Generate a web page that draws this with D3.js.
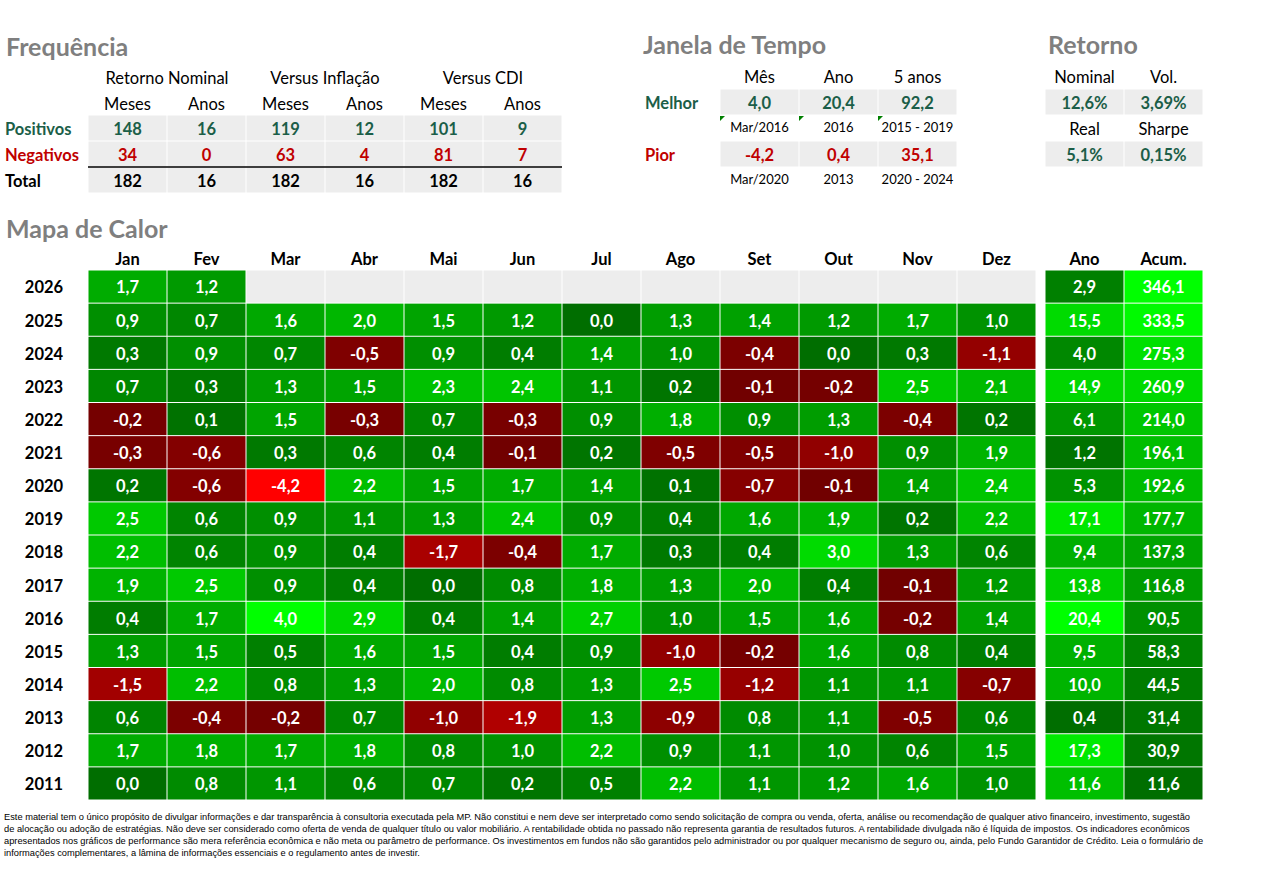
<!DOCTYPE html>
<html>
<head>
<meta charset="utf-8">
<script src="https://cdn.jsdelivr.net/npm/d3@7"></script>
<style>
  body { margin: 0; background: #fff; }
  text { font-family: Lato, "Open Sans", sans-serif; }
</style>
</head>
<body>
<svg id="screen" width="1282" height="877"></svg>
<script>
// ---- data ----
var months = ["Jan","Fev","Mar","Abr","Mai","Jun","Jul","Ago","Set","Out","Nov","Dez"];
var years = [2026,2025,2024,2023,2022,2021,2020,2019,2018,2017,2016,2015,2014,2013,2012,2011];
var monthly = [
  [1.7,1.2,null,null,null,null,null,null,null,null,null,null],
  [0.9,0.7,1.6,2.0,1.5,1.2,0.0,1.3,1.4,1.2,1.7,1.0],
  [0.3,0.9,0.7,-0.5,0.9,0.4,1.4,1.0,-0.4,0.0,0.3,-1.1],
  [0.7,0.3,1.3,1.5,2.3,2.4,1.1,0.2,-0.1,-0.2,2.5,2.1],
  [-0.2,0.1,1.5,-0.3,0.7,-0.3,0.9,1.8,0.9,1.3,-0.4,0.2],
  [-0.3,-0.6,0.3,0.6,0.4,-0.1,0.2,-0.5,-0.5,-1.0,0.9,1.9],
  [0.2,-0.6,-4.2,2.2,1.5,1.7,1.4,0.1,-0.7,-0.1,1.4,2.4],
  [2.5,0.6,0.9,1.1,1.3,2.4,0.9,0.4,1.6,1.9,0.2,2.2],
  [2.2,0.6,0.9,0.4,-1.7,-0.4,1.7,0.3,0.4,3.0,1.3,0.6],
  [1.9,2.5,0.9,0.4,0.0,0.8,1.8,1.3,2.0,0.4,-0.1,1.2],
  [0.4,1.7,4.0,2.9,0.4,1.4,2.7,1.0,1.5,1.6,-0.2,1.4],
  [1.3,1.5,0.5,1.6,1.5,0.4,0.9,-1.0,-0.2,1.6,0.8,0.4],
  [-1.5,2.2,0.8,1.3,2.0,0.8,1.3,2.5,-1.2,1.1,1.1,-0.7],
  [0.6,-0.4,-0.2,0.7,-1.0,-1.9,1.3,-0.9,0.8,1.1,-0.5,0.6],
  [1.7,1.8,1.7,1.8,0.8,1.0,2.2,0.9,1.1,1.0,0.6,1.5],
  [0.0,0.8,1.1,0.6,0.7,0.2,0.5,2.2,1.1,1.2,1.6,1.0]
];
var anoValues = [2.9,15.5,4.0,14.9,6.1,1.2,5.3,17.1,9.4,13.8,20.4,9.5,10.0,0.4,17.3,11.6];
var acumValues = [346.1,333.5,275.3,260.9,214.0,196.1,192.6,177.7,137.3,116.8,90.5,58.3,44.5,31.4,30.9,11.6];
var totCols = ["Ano","Acum."];

var freqGroups = ["Retorno Nominal","Versus Inflação","Versus CDI"];
var freqSub = ["Meses","Anos","Meses","Anos","Meses","Anos"];
var freqRows = ["Positivos","Negativos","Total"];
var positivos = [148,16,119,12,101,9];
var negativos = [34,0,63,4,81,7];
var totais = [182,16,182,16,182,16];

var janelaCols = ["Mês","Ano","5 anos"];
var melhor = [4.0,20.4,92.2];
var melhorLabels = ["Mar/2016","2016","2015 - 2019"];
var pior = [-4.2,0.4,35.1];
var piorLabels = ["Mar/2020","2013","2020 - 2024"];

var retHead1 = ["Nominal","Vol."];
var retVal1 = ["12,6%","3,69%"];
var retHead2 = ["Real","Sharpe"];
var retVal2 = ["5,1%","0,15%"];

var footer = [
  "Este material tem o único propósito de divulgar informações e dar transparência à consultoria executada pela MP. Não constitui e nem deve ser interpretado como sendo solicitação de compra ou venda, oferta, análise ou recomendação de qualquer ativo financeiro, investimento, sugestão",
  "de alocação ou adoção de estratégias. Não deve ser considerado como oferta de venda de qualquer título ou valor mobiliário. A rentabilidade obtida no passado não representa garantia de resultados futuros. A rentabilidade divulgada não é líquida de impostos. Os indicadores econômicos",
  "apresentados nos gráficos de performance são mera referência econômica e não meta ou parâmetro de performance. Os investimentos em fundos não são garantidos pelo administrador ou por qualquer mecanismo de seguro ou, ainda, pelo Fundo Garantidor de Crédito. Leia o formulário de",
  "informações complementares, a lâmina de informações essenciais e o regulamento antes de investir."
];

// ---- helpers ----
var br = d3.formatLocale({decimal: ",", thousands: ".", grouping: [3], currency: ["R$", ""], minus: "-"});
var f1 = br.format(".1f");
var GREEN = "#1b5e48", RED = "#c00000", GRAY = "#ededed", TITLE = "#7f7f7f";
var FS = 16.5, DY = "0.42em";

var svg = d3.select("#screen");

function title(txt, x, y) {
  svg.append("text").attr("x", x).attr("y", y).text(txt)
    .attr("font-size", 25).attr("font-weight", "bold").attr("fill", TITLE);
}
function label(txt, x, y, opts) {
  opts = opts || {};
  return svg.append("text").attr("x", x).attr("y", y).attr("dy", DY)
    .attr("text-anchor", opts.anchor || "middle")
    .attr("font-size", opts.size || FS)
    .attr("font-weight", opts.bold ? "bold" : "normal")
    .attr("fill", opts.fill || "#000").text(txt);
}

// ---- Frequência ----
title("Frequência", 6, 56);
var xFreq = d3.scaleBand().domain(d3.range(6)).range([88, 562]);
var yFreq = d3.scaleBand().domain(freqRows).range([115, 193]);

freqGroups.forEach(function(g, i) {
  label(g, xFreq(i * 2) + xFreq.bandwidth(), 77);
});
freqSub.forEach(function(s, i) {
  label(s, xFreq(i) + xFreq.bandwidth() / 2, 103);
});
var freqData = [positivos, negativos, totais];
var freqColors = [GREEN, RED, "#000"];
freqRows.forEach(function(r, ri) {
  label(r, 5, yFreq(r) + yFreq.bandwidth() / 2, {anchor: "start", bold: true, fill: freqColors[ri]});
  svg.append("g").selectAll("rect").data(freqData[ri]).enter().append("rect")
    .attr("x", function(d, i) { return xFreq(i) + 0.5; })
    .attr("y", yFreq(r) + 0.5)
    .attr("width", xFreq.bandwidth() - 1)
    .attr("height", yFreq.bandwidth() - 1)
    .attr("fill", GRAY);
  svg.append("g").selectAll("text").data(freqData[ri]).enter().append("text")
    .attr("x", function(d, i) { return xFreq(i) + xFreq.bandwidth() / 2; })
    .attr("y", yFreq(r) + yFreq.bandwidth() / 2)
    .attr("dy", DY).attr("text-anchor", "middle")
    .attr("font-size", FS).attr("font-weight", "bold").attr("fill", freqColors[ri])
    .text(function(d) { return d; });
});
svg.append("line")
  .attr("x1", xFreq.range()[0]).attr("x2", xFreq.range()[1])
  .attr("y1", yFreq("Total")).attr("y2", yFreq("Total"))
  .attr("stroke", "#000").attr("stroke-width", 1.3);

// ---- Janela de Tempo ----
title("Janela de Tempo", 643, 54);
var xJan = d3.scaleBand().domain(janelaCols).range([720, 957]);
var ySide = d3.scaleBand().domain(["h", "v1", "s1", "v2", "s2"]).range([63, 193]);

janelaCols.forEach(function(c) {
  label(c, xJan(c) + xJan.bandwidth() / 2, ySide("h") + ySide.bandwidth() / 2);
});
label("Melhor", 645, ySide("v1") + ySide.bandwidth() / 2, {anchor: "start", bold: true, fill: GREEN});
label("Pior", 645, ySide("v2") + ySide.bandwidth() / 2, {anchor: "start", bold: true, fill: RED});

[[melhor, melhorLabels, "v1", "s1", GREEN], [pior, piorLabels, "v2", "s2", RED]].forEach(function(set) {
  var g = svg.append("g");
  g.selectAll("rect").data(set[0]).enter().append("rect")
    .attr("x", function(d, i) { return xJan(janelaCols[i]) + 0.5; })
    .attr("y", ySide(set[2]) + 0.5)
    .attr("width", xJan.bandwidth() - 1).attr("height", ySide.bandwidth() - 1)
    .attr("fill", GRAY);
  g.selectAll("text.v").data(set[0]).enter().append("text").attr("class", "v")
    .attr("x", function(d, i) { return xJan(janelaCols[i]) + xJan.bandwidth() / 2; })
    .attr("y", ySide(set[2]) + ySide.bandwidth() / 2)
    .attr("dy", DY).attr("text-anchor", "middle")
    .attr("font-size", FS).attr("font-weight", "bold").attr("fill", set[4])
    .text(function(d) { return f1(d); });
  g.selectAll("text.s").data(set[1]).enter().append("text").attr("class", "s")
    .attr("x", function(d, i) { return xJan(janelaCols[i]) + xJan.bandwidth() / 2; })
    .attr("y", ySide(set[3]) + ySide.bandwidth() / 2 - 1)
    .attr("dy", DY).attr("text-anchor", "middle")
    .attr("font-size", 13).attr("fill", "#000")
    .text(function(d) { return d; });
});
// little green comment markers
svg.append("g").selectAll("path").data(janelaCols).enter().append("path")
  .attr("d", function(c) {
    var x = xJan(c), y = ySide("s1") + 1;
    return "M" + x + "," + y + "h5l-5,5z";
  })
  .attr("fill", "#008000");

// ---- Retorno ----
title("Retorno", 1048, 54);
var xRet = d3.scaleBand().domain([0, 1]).range([1045, 1203]);
[[retHead1, "h", false], [retVal1, "v1", true], [retHead2, "s1", false], [retVal2, "v2", true]].forEach(function(set) {
  var g = svg.append("g");
  if (set[2]) {
    g.selectAll("rect").data(set[0]).enter().append("rect")
      .attr("x", function(d, i) { return xRet(i) + 0.5; })
      .attr("y", ySide(set[1]) + 0.5)
      .attr("width", xRet.bandwidth() - 1).attr("height", ySide.bandwidth() - 1)
      .attr("fill", GRAY);
  }
  g.selectAll("text").data(set[0]).enter().append("text")
    .attr("x", function(d, i) { return xRet(i) + xRet.bandwidth() / 2; })
    .attr("y", ySide(set[1]) + ySide.bandwidth() / 2)
    .attr("dy", DY).attr("text-anchor", "middle")
    .attr("font-size", FS)
    .attr("font-weight", set[2] ? "bold" : "normal")
    .attr("fill", set[2] ? GREEN : "#000")
    .text(function(d) { return d; });
});

// ---- Mapa de Calor ----
title("Mapa de Calor", 6, 238);
var x = d3.scaleBand().domain(months).range([88, 1036]);
var xTot = d3.scaleBand().domain(totCols).range([1045, 1203]);
var y = d3.scaleBand().domain(years).range([270, 800]);

var greenM = d3.scaleLinear().domain([0, 4.0]).range(["#006e00", "#00ff00"]);
var redM = d3.scaleLinear().domain([0, -4.2]).range(["#6e0000", "#ff0000"]);
function monthColor(v) {
  if (v === null) return GRAY;
  return v < 0 ? redM(v) : greenM(v);
}
var anoColor = d3.scaleLinear().domain([0.4, 20.4]).range(["#006e00", "#00ff00"]);
var acumColor = d3.scaleLinear().domain([11.6, 346.1]).range(["#006e00", "#00ff00"]);

months.forEach(function(m) { label(m, x(m) + x.bandwidth() / 2, 258, {bold: true}); });
totCols.forEach(function(c) { label(c, xTot(c) + xTot.bandwidth() / 2, 258, {bold: true}); });

var cells = [];
years.forEach(function(yr, ri) {
  monthly[ri].forEach(function(v, ci) { cells.push({year: yr, month: months[ci], v: v}); });
});

var heat = svg.append("g");
heat.selectAll("rect").data(cells).enter().append("rect")
  .attr("x", function(d) { return x(d.month) + 0.5; })
  .attr("y", function(d) { return y(d.year) + 0.5; })
  .attr("width", x.bandwidth() - 1)
  .attr("height", y.bandwidth() - 1)
  .attr("fill", function(d) { return monthColor(d.v); });
heat.selectAll("text").data(cells.filter(function(d) { return d.v !== null; })).enter().append("text")
  .attr("x", function(d) { return x(d.month) + x.bandwidth() / 2; })
  .attr("y", function(d) { return y(d.year) + y.bandwidth() / 2; })
  .attr("dy", DY).attr("text-anchor", "middle")
  .attr("font-size", FS).attr("font-weight", "bold").attr("fill", "#fff")
  .text(function(d) { return f1(d.v); });

years.forEach(function(yr) { label(yr, 44, y(yr) + y.bandwidth() / 2, {bold: true}); });

[[anoValues, "Ano", anoColor], [acumValues, "Acum.", acumColor]].forEach(function(set) {
  var g = svg.append("g");
  g.selectAll("rect").data(set[0]).enter().append("rect")
    .attr("x", xTot(set[1]) + 0.5)
    .attr("y", function(d, i) { return y(years[i]) + 0.5; })
    .attr("width", xTot.bandwidth() - 1)
    .attr("height", y.bandwidth() - 1)
    .attr("fill", function(d) { return set[2](d); });
  g.selectAll("text").data(set[0]).enter().append("text")
    .attr("x", xTot(set[1]) + xTot.bandwidth() / 2)
    .attr("y", function(d, i) { return y(years[i]) + y.bandwidth() / 2; })
    .attr("dy", DY).attr("text-anchor", "middle")
    .attr("font-size", FS).attr("font-weight", "bold").attr("fill", "#fff")
    .text(function(d) { return f1(d); });
});

// ---- footer ----
var foot = svg.append("g").selectAll("text").data(footer).enter().append("text")
  .attr("x", 4).attr("y", function(d, i) { return 820 + i * 12; })
  .style("font-family", "'Liberation Sans', Arial, sans-serif")
  .attr("font-size", 9.5).attr("fill", "#000")
  .text(function(d) { return d; });
var k = 1186 / foot.nodes()[0].getComputedTextLength();
foot.each(function() {
  d3.select(this).attr("textLength", this.getComputedTextLength() * k)
    .attr("lengthAdjust", "spacingAndGlyphs");
});
</script>
</body>
</html>
